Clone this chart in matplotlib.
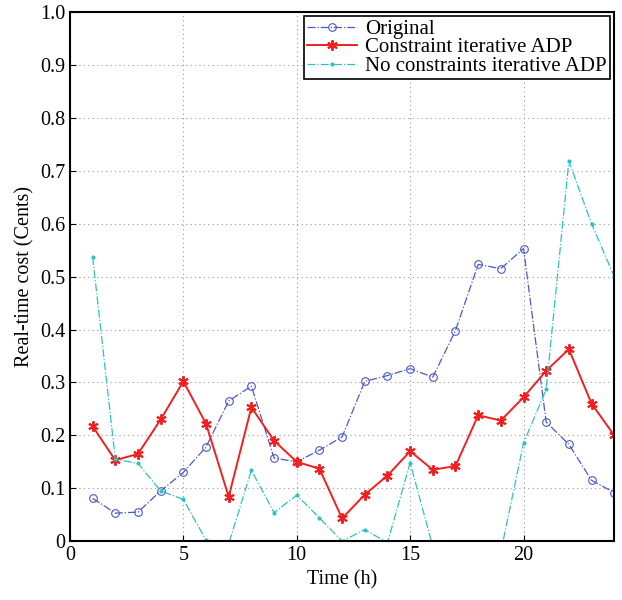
import numpy as np
import matplotlib.pyplot as plt

plt.rcParams['font.family'] = ['Liberation Serif', 'DejaVu Serif']
plt.rcParams['mathtext.fontset'] = 'stix'

hours = np.arange(1, 25)

original = [0.081, 0.053, 0.055, 0.095, 0.130, 0.178, 0.265, 0.293, 0.157, 0.150,
            0.172, 0.197, 0.302, 0.313, 0.326, 0.310, 0.398, 0.523, 0.515, 0.553,
            0.225, 0.183, 0.115, 0.092]
constraint = [0.217, 0.153, 0.165, 0.230, 0.302, 0.222, 0.084, 0.253, 0.190, 0.150,
              0.137, 0.043, 0.088, 0.124, 0.170, 0.135, 0.142, 0.238, 0.228, 0.272,
              0.322, 0.363, 0.260, 0.200]
no_constraint = [0.537, 0.155, 0.147, 0.095, 0.079, 0.002, -0.005, 0.134, 0.054, 0.087,
                 0.044, 0.000, 0.022, -0.003, 0.148, -0.010, -0.050, -0.040, -0.020, 0.185,
                 0.287, 0.718, 0.600, 0.500]

fig = plt.figure(figsize=(6.22, 6.0), dpi=100)
ax = fig.add_axes([0.1125, 0.098, 0.875, 0.882])

ax.plot(hours, original, '-.', color='#4a5ac4', marker='o', markersize=5.5,
        markerfacecolor='none', markeredgewidth=0.8, linewidth=0.9, label='Original')
ax.plot(hours, constraint, '-', color='#f02020', marker=(6, 2, 0), markersize=7.5,
        markeredgewidth=1.4, linewidth=1.4, label='Constraint iterative ADP')
ax.plot(hours, no_constraint, '-.', color='#30c0c0', marker='.', markersize=4,
        linewidth=0.9, label='No constraints iterative ADP')

ax.set_xlim(0, 24)
ax.set_ylim(0, 1.0)
ax.set_xticks([0, 5, 10, 15, 20])
yt = np.round(np.arange(0, 1.01, 0.1), 1)
ax.set_yticks(yt)
ax.set_yticklabels(['0'] + ['%.1f' % v for v in yt[1:]])
ax.grid(True, linestyle=(0, (1, 3)), color='#999999', linewidth=0.8)
ax.tick_params(direction='in', labelsize=14.5, length=4)
for s in ax.spines.values():
    s.set_linewidth(1.5)

ax.set_xlabel('Time (h)', fontsize=14.5)
ax.set_ylabel('Real-time cost (Cents)', fontsize=14.5)

leg = ax.legend(loc='upper right', fontsize=15, fancybox=False, framealpha=1,
                edgecolor='black', borderpad=0.15, labelspacing=-0.05,
                handlelength=2.4, handletextpad=0.4, borderaxespad=0.2)
leg.get_frame().set_linewidth(1.2)

fig.savefig('out.png', dpi=100)
